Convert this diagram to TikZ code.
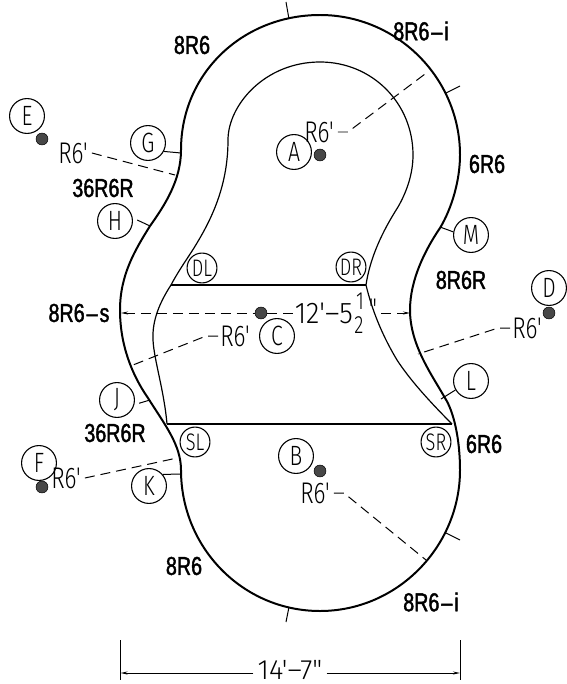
\documentclass[tikz,border=0pt]{standalone}
\usepackage{fontspec}
\setmainfont{Liberation Sans}
\newfontfamily\cadheavy[FakeStretch=0.76,FakeBold=1.6]{Liberation Sans}
\newfontfamily\cadthin[FakeStretch=0.76]{Fira Sans Light}
\usetikzlibrary{arrows.meta}
\tikzset{
	tag/.style={draw, circle, line width=1.1pt, minimum size=35pt, inner sep=0pt, font=\cadthin\fontsize{28}{28}\selectfont},
	smalltag/.style={tag, minimum size=30pt, font=\cadthin\fontsize{24}{24}\selectfont},
	pin/.style={circle, fill=black!72, draw=black, line width=0.5pt, minimum size=12pt, inner sep=0pt},
	size/.style={inner sep=0pt, font=\cadheavy\fontsize{26}{26}\selectfont},
	note/.style={inner sep=0pt, font=\cadthin\fontsize{30}{30}\selectfont},
	edge/.style={line width=2pt},
	wall/.style={line width=1.2pt},
	thin leader/.style={line width=1pt},
	lead/.style={line width=1pt, dash pattern=on 10pt off 6pt}
}
\begin{document}
\begin{tikzpicture}[x=1bp, y=-1bp, line join=round, line cap=butt, >={Stealth[length=7pt,width=3pt]}]
	\useasboundingbox (0,0) rectangle (567,684);
	% outer edge
	\draw[edge] (181,150) ..controls (181,73) and (243,15) .. (320,15)
		..controls (397,15) and (460,78) .. (460,155)
		..controls (460,180) and (452,208) .. (440,228)
		..controls (425,250) and (410,280) .. (410,310)
		..controls (410,345) and (432,375) .. (445,398)
		..controls (454,412) and (460,440) .. (460,470)
		..controls (460,547) and (397,611) .. (320,611)
		..controls (243,611) and (181,548) .. (181,470)
		..controls (181,445) and (165,425) .. (148,398)
		..controls (132,375) and (120,345) .. (120,310)
		..controls (120,275) and (135,250) .. (150,226)
		..controls (165,205) and (181,180) .. (181,150) -- cycle;
	% inner edge
	\coordinate (DLc) at (171,285);
	\coordinate (DRc) at (366,285);
	\coordinate (SLc) at (167,424);
	\coordinate (SRc) at (452,424);
	\draw[wall] (DLc) ..controls (180,268) and (190,255) .. (197,243)
		..controls (212,218) and (228,185) .. (228,140)
		..controls (228,105) and (265,62) .. (320,62)
		..controls (372,62) and (413,103) .. (413,155)
		..controls (413,175) and (406,193) .. (398,207)
		..controls (382,232) and (370,258) .. (366,285)
		..controls (372,310) and (382,335) .. (397,360)
		..controls (410,380) and (430,402) .. (SRc);
	\draw[wall] (DLc) ..controls (160,302) and (152,320) .. (153,340)
		..controls (154,360) and (164,390) .. (SLc);
	\draw[wall, line width=1.3pt] (DLc) -- (DRc) (SLc) -- (SRc);
	% ticks on the edge
	\foreach \n/\x/\y/\u/\v in {a/286/2/289/19, b/460/86/446/93, c/460/540/446/533, d/286/622/289/607}{
		\coordinate (\n0) at (\x,\y);
		\coordinate (\n1) at (\u,\v);
		\draw[thin leader] (\n0) -- (\n1);
	}
	% circled letters with their ticks
	\foreach \n/\x/\y/\a/\s/\u/\v in {G/148/143/-28/0/181/153, H/115/221/10/5/150/226, M/471/235/170/0/440/227, L/471/381/210/0/441/399, J/117/400/-15/5/150/400, K/149/486/40/0/181/474}{
		\node[tag] (\n) at (\x,\y) {\n};
		\coordinate (\n1) at (\u,\v);
		\draw[thin leader, shorten <=\s pt] (\n.\a) -- (\n1);
	}
	\foreach \n/\x/\y in {E/27/116, A/294/152, D/549/288, C/277/336, F/39/463, B/296/456}{
		\node[tag] (\n) at (\x,\y) {\n};
	}
	\foreach \n/\x/\y in {DL/202/268, DR/351/267, SL/195/442, SR/436/442}{
		\node[smalltag] (\n) at (\x,\y) {\n};
	}
	\foreach \n/\x/\y in {E/42/139, A/320/155, D/549/313, C/261/313, F/42/487, B/320/471}{
		\node[pin] (pin\n) at (\x,\y) {};
	}
	% sizes
	\foreach \n/\x/\y/\t in {s1/192/45/8R6, s2/421/31/8R6\kern2pt–\kern2pt i, s3/487/164/6R6, s4/103/188/36R6R, s5/461/280/8R6R, s6/79/313/8R6\kern2pt–\kern2pt s, s7/115/433/36R6R, s8/484/444/6R6, s9/184/566/8R6, s10/431/602/8R6\kern2pt–\kern2pt i}{
		\node[size] (\n) at (\x,\y) {\t};
	}
	% radius leaders
	\foreach \n/\x/\y in {rA/319/132, rE/73/153, rC/235/336, rD/527/328, rF/66/478, rB/315/493}{
		\node[note] (\n) at (\x,\y) {R6'};
	}
	\coordinate (eA) at (429,71);
	\coordinate (eE) at (175,175);
	\coordinate (eC) at (133,365);
	\coordinate (eD) at (418,354);
	\coordinate (eF) at (177,458);
	\coordinate (eB) at (426,560);
	\draw[lead] ([xshift=4pt]rA.east) -- ++(10,0) -- (eA);
	\draw[lead] ([xshift=4pt]rE.east) -- (eE);
	\draw[lead] ([xshift=-2pt]rC.west) -- ++(-12,0) -- (eC);
	\draw[lead] ([xshift=-2pt]rD.west) -- ++(-12,0) -- (eD);
	\draw[lead] ([xshift=4pt]rF.east) -- (eF);
	\draw[lead] ([xshift=4pt]rB.east) -- ++(10,0) -- (eB);
	% width at the waist
	\coordinate (wL) at (121,313);
	\coordinate (wR) at (410,313);
	\node[note, anchor=east, xscale=1.22, transform shape] (wT) at (353,313) {12'–5};
	\node[note, font=\cadthin\fontsize{25}{25}\selectfont] (wN) at (360,301) {1};
	\node[note, font=\cadthin\fontsize{25}{25}\selectfont] (wD) at (359,325) {2};
	\node[note] (wI) at (373,309) {"};
	\draw[lead, <-] (wL) -- (pinC);
	\draw[lead] (pinC) -- ([xshift=-2pt]wT.west);
	\draw[lead, ->] (wI.east |- wR) ++(4,0) -- (wR);
	% overall width
	\coordinate (oL) at (120.5,640);
	\coordinate (oL1) at (120.5,680);
	\coordinate (oR) at (460,640);
	\coordinate (oR1) at (460,680);
	\coordinate (oLa) at (120.5,673);
	\coordinate (oRa) at (460,673);
	\node[note, xscale=1.3, transform shape, font=\cadthin\fontsize{28}{28}\selectfont] (oT) at (290,670) {14'–7"};
	\draw[thin leader] (oL) -- (oL1) (oR) -- (oR1);
	\draw[thin leader, ->] ([xshift=-4pt]oT.west |- oLa) -- (oLa);
	\draw[thin leader, ->] ([xshift=4pt]oT.east |- oRa) -- (oRa);
\end{tikzpicture}
\end{document}
